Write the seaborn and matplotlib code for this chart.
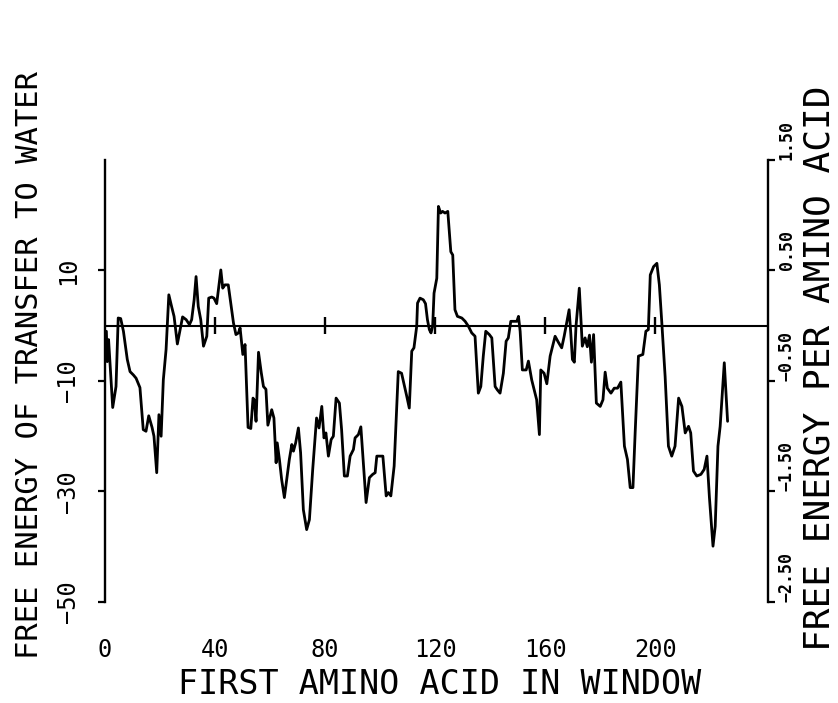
import matplotlib
matplotlib.use("Agg")
import matplotlib.pyplot as plt
import seaborn as sns
import pandas as pd

# ---- data ----
first_residue = [
    0.5, 0.8, 1.3, 2.8, 4.0, 4.8, 5.7, 6.7, 8.1, 9.1, 10.3, 11.3, 12.7, 13.9, 14.9, 15.9,
    17.1, 17.8, 18.8, 19.6, 20.4, 21.2, 22.2, 23.2, 24.2, 25.1, 26.3, 27.3, 28.2, 29.5,
    30.7, 31.5, 32.4, 33.1, 33.9, 34.8, 35.8, 37.0, 37.7, 38.8, 39.6, 40.6, 41.2, 42.1,
    42.8, 43.6, 44.8, 45.7, 46.7, 47.6, 48.5, 49.1, 50.1, 50.9, 52.0, 53.0, 53.8, 54.3,
    54.9, 55.8, 56.8, 57.6, 58.5, 59.2, 60.6, 61.4, 62.2, 62.6, 63.4, 64.2, 65.2, 67.0,
    67.9, 68.5, 69.3, 70.3, 71.1, 72.1, 73.3, 74.3, 75.5, 76.9, 77.8, 78.8, 79.6, 80.3,
    81.2, 82.2, 83.0, 84.0, 85.2, 86.0, 87.0, 88.1, 89.1, 90.3, 90.9, 92.1, 93.0, 93.9,
    94.9, 96.1, 97.3, 98.2, 98.8, 101.0, 102.2, 103.0, 103.9, 105.1, 106.6, 107.8, 109.7,
    110.6, 111.5, 112.3, 113.3, 113.6, 114.5, 115.7, 116.5, 117.2, 117.9, 118.5, 119.1,
    119.6, 120.6, 121.2, 122.0, 122.7, 123.6, 124.6, 125.7, 126.4, 127.2, 128.1, 129.7,
    130.9, 132.1, 133.3, 134.5, 135.7, 136.6, 137.5, 138.4, 139.7, 140.6, 141.8, 142.6,
    143.6, 144.8, 145.8, 146.6, 147.5, 149.7, 150.3, 150.9, 151.7, 153.1, 153.9, 155.1,
    156.3, 156.9, 157.9, 158.4, 159.6, 160.6, 161.8, 162.7, 163.6, 164.8, 166.0, 166.9,
    167.8, 168.7, 169.3, 169.9, 170.6, 171.2, 172.4, 173.5, 174.5, 175.3, 176.1, 176.8,
    177.6, 178.6, 180.0, 181.0, 181.8, 182.6, 183.9, 185.1, 186.3, 187.5, 188.8, 189.9,
    190.9, 191.9, 192.7, 193.9, 195.5, 196.6, 197.5, 198.2, 199.4, 200.6, 201.5, 202.4,
    203.6, 204.8, 206.0, 207.2, 208.5, 209.7, 210.9, 212.1, 212.9, 213.9, 215.1, 216.6,
    217.8, 218.8, 219.7, 221.0, 221.8, 222.8, 223.6, 225.1, 226.3,
]
free_energy = [
    -1.0, -6.5, -2.5, -14.8, -11.0, 1.4, 1.3, -1.0, -6.1, -8.3, -8.9, -9.5, -11.2, -18.8, -19.1, -16.3,
    -18.4, -20.0, -26.6, -16.1, -20.0, -9.8, -4.3, 5.6, 3.5, 1.7, -3.3, -0.7, 1.6, 1.1,
    0.2, 1.1, 4.7, 8.9, 3.5, 1.1, -3.7, -1.9, 5.0, 5.2, 5.0, 4.0, 6.5, 10.1,
    6.8, 7.4, 7.4, 4.1, 0.5, -1.6, -1.3, -0.4, -5.2, -3.4, -18.4, -18.6, -13.1, -13.5,
    -17.3, -4.8, -8.5, -11.0, -11.5, -18.0, -15.2, -16.7, -24.8, -21.2, -24.2, -27.8, -31.1, -24.2,
    -21.5, -22.7, -21.2, -18.5, -23.0, -33.3, -36.9, -35.1, -26.0, -16.7, -18.5, -14.6, -20.3, -19.4,
    -23.6, -20.6, -20.0, -13.1, -14.0, -18.8, -27.2, -27.2, -23.6, -22.4, -20.3, -19.7, -18.3, -24.8,
    -32.0, -27.5, -26.9, -26.6, -23.6, -23.6, -30.8, -30.2, -30.8, -25.4, -8.3, -8.6, -12.8,
    -14.9, -4.6, -4.0, -0.1, 4.1, 5.0, 4.7, 4.0, 1.1, -0.7, -1.3, -0.1,
    5.9, 8.6, 21.6, 20.4, 20.7, 20.4, 20.7, 13.4, 12.8, 2.9, 1.7, 1.4,
    0.8, -0.1, -1.3, -1.9, -12.2, -11.0, -5.5, -1.0, -1.6, -2.2, -11.0, -11.6,
    -12.2, -8.6, -2.8, -2.2, 0.8, 0.8, 1.7, -1.0, -8.0, -8.0, -6.4, -9.8,
    -12.2, -13.4, -19.7, -8.0, -8.6, -10.5, -5.5, -3.7, -1.9, -3.0, -4.0, -1.9,
    0.5, 2.9, -1.3, -6.1, -6.6, -0.1, 6.8, -3.7, -2.2, -3.8, -1.7, -6.6,
    -1.6, -14.0, -14.6, -13.4, -8.4, -11.3, -12.2, -11.3, -11.3, -10.2, -21.8, -24.2,
    -29.3, -29.3, -19.4, -5.5, -5.2, -1.0, -0.7, 9.2, 10.7, 11.3, 7.4, 0.5,
    -9.2, -21.8, -23.6, -21.8, -13.1, -14.6, -19.4, -18.2, -19.4, -26.3, -27.2, -26.9,
    -26.0, -23.6, -31.1, -39.9, -36.3, -21.8, -18.2, -6.7, -17.3,
]
x_ticks = [0, 40, 80, 120, 160, 200]
x_tick_labels = ["0", "40", "80", "120", "160", "200"]
left_ticks = [-50, -30, -10, 10]
left_tick_labels = ["\u221250", "\u221230", "\u221210", "10"]
right_ticks = [-2.5, -1.5, -0.5, 0.5, 1.5]
right_tick_labels = ["\u22122.50", "\u22121.50", "\u22120.50", "0.50", "1.50"]
zero_marks = [40, 80, 120, 160, 200]

df = pd.DataFrame({"first": first_residue, "energy": free_energy})

sns.set_style("white")
plt.rcParams["font.family"] = ["DejaVu Sans Mono", "DejaVu Sans"]
plt.rcParams["text.color"] = "black"
plt.rcParams["axes.labelcolor"] = "black"
plt.rcParams["xtick.color"] = "black"
plt.rcParams["ytick.color"] = "black"

fig = plt.figure(figsize=(8.38, 7.03), dpi=100)
ax = fig.add_axes([0.1253, 0.1437, 0.7912, 0.6287])

sns.lineplot(data=df, x="first", y="energy", ax=ax, color="black",
             linewidth=2.0, estimator=None, sort=False)

ax.axhline(0, color="black", linewidth=1.5, zorder=1)
ax.vlines(zero_marks, -1.5, 1.5, color="black", linewidth=1.7)

ax.set_xlim(0, 241)
ax.set_ylim(-50, 30)

for s in ["top", "bottom", "right"]:
    ax.spines[s].set_visible(False)
ax.spines["left"].set_linewidth(1.7)
ax.spines["left"].set_color("black")

ax.set_xticks(x_ticks)
ax.set_xticklabels(x_tick_labels, fontsize=17)
ax.tick_params(axis="x", length=0, pad=26, labelcolor="black")

ax.set_yticks(left_ticks)
ax.set_yticklabels(left_tick_labels, fontsize=17, rotation=90, va="center")
ax.tick_params(axis="y", direction="out", length=5, width=1.6, pad=13, left=True,
               color="black", labelcolor="black")

ax.set_xlabel("FIRST AMINO ACID IN WINDOW", fontsize=24, va="center", color="black")
ax.xaxis.set_label_coords(0.505, -0.186)
ax.set_ylabel("FREE ENERGY OF TRANSFER TO WATER", fontsize=22, va="center", color="black")
ax.yaxis.set_label_coords(-0.1146, 0.536)

ax2 = ax.twinx()
ax2.set_ylim(-2.5, 1.5)
for s in ["top", "bottom", "left"]:
    ax2.spines[s].set_visible(False)
ax2.spines["right"].set_linewidth(1.7)
ax2.spines["right"].set_color("black")
ax2.set_yticks(right_ticks)
ax2.set_yticklabels(right_tick_labels, fontsize=12, fontweight="bold",
                    rotation=90, va="bottom", ha="left")
ax2.tick_params(axis="y", direction="out", length=5, width=1.6, pad=2, right=True,
                color="black", labelcolor="black")
ax2.set_ylabel("FREE ENERGY PER AMINO ACID", fontsize=26, rotation=90, va="center",
               color="black")
ax2.yaxis.set_label_coords(1.078, 0.529)
ax2.grid(False)
ax.grid(False)

fig.savefig("out.png", dpi=100, facecolor="white")
